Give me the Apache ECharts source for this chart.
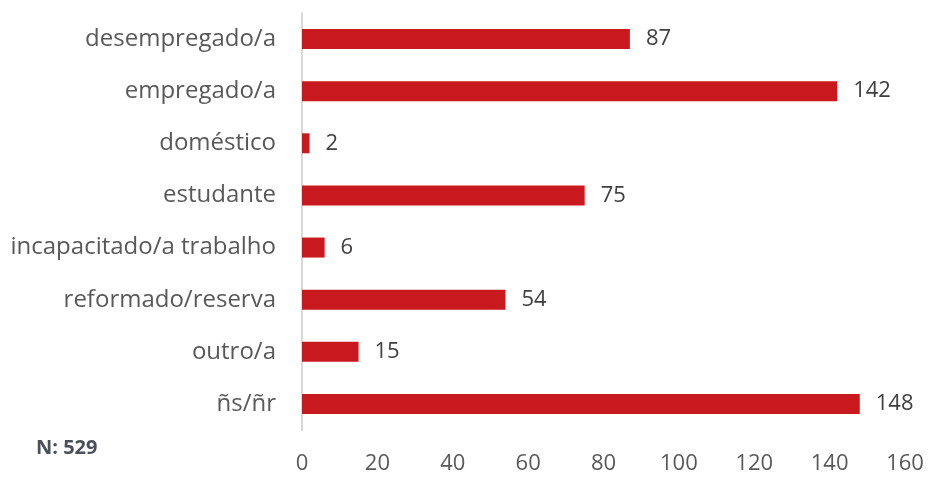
<!DOCTYPE html>
<html>
<head>
<meta charset="utf-8">
<script src="https://cdn.jsdelivr.net/npm/echarts@6/dist/echarts.min.js"></script>
<style>
html,body{margin:0;padding:0;background:#fff;}
#main{width:928px;height:477px;}
</style>
</head>
<body>
<div id="main"></div>
<script>
const categories = ["desempregado/a","empregado/a","doméstico","estudante","incapacitado/a trabalho","reformado/reserva","outro/a","ñs/ñr"];
const values = [87,142,2,75,6,54,15,148];
const xTicks = {min:0,max:160,interval:20};
const noteText = "N: 529";

const chart = echarts.init(document.getElementById('main'), null, {renderer:'canvas'});
chart.setOption({
  animation:false,
  backgroundColor:'#ffffff',
  textStyle:{fontFamily:'"Open Sans", sans-serif'},
  grid:{left:302,right:23,top:13,bottom:47,containLabel:false},
  xAxis:{
    type:'value',min:xTicks.min,max:xTicks.max,interval:xTicks.interval,
    axisLine:{show:false},axisTick:{show:false},splitLine:{show:false},
    axisLabel:{color:'#595959',fontSize:22,margin:23,fontFamily:'"Open Sans", sans-serif'}
  },
  yAxis:{
    type:'category',data:categories,inverse:true,
    axisLine:{show:true,lineStyle:{color:'#d9d9d9',width:2}},
    axisTick:{show:false},
    axisLabel:{color:'#595959',fontSize:24,margin:26,fontFamily:'"Open Sans", sans-serif'}
  },
  series:[{
    type:'bar',data:values,barWidth:20,
    itemStyle:{color:'#C8191F'},
    label:{show:true,position:'right',distance:16,color:'#404040',fontSize:22,fontFamily:'"Open Sans", sans-serif'}
  }],
  graphic:[{
    type:'text',left:36,top:438,
    style:{text:noteText,fill:'#4a4f5a',font:'bold 20px "Open Sans", sans-serif',textVerticalAlign:'middle',verticalAlign:'middle'}
  }]
});
</script>
</body>
</html>
